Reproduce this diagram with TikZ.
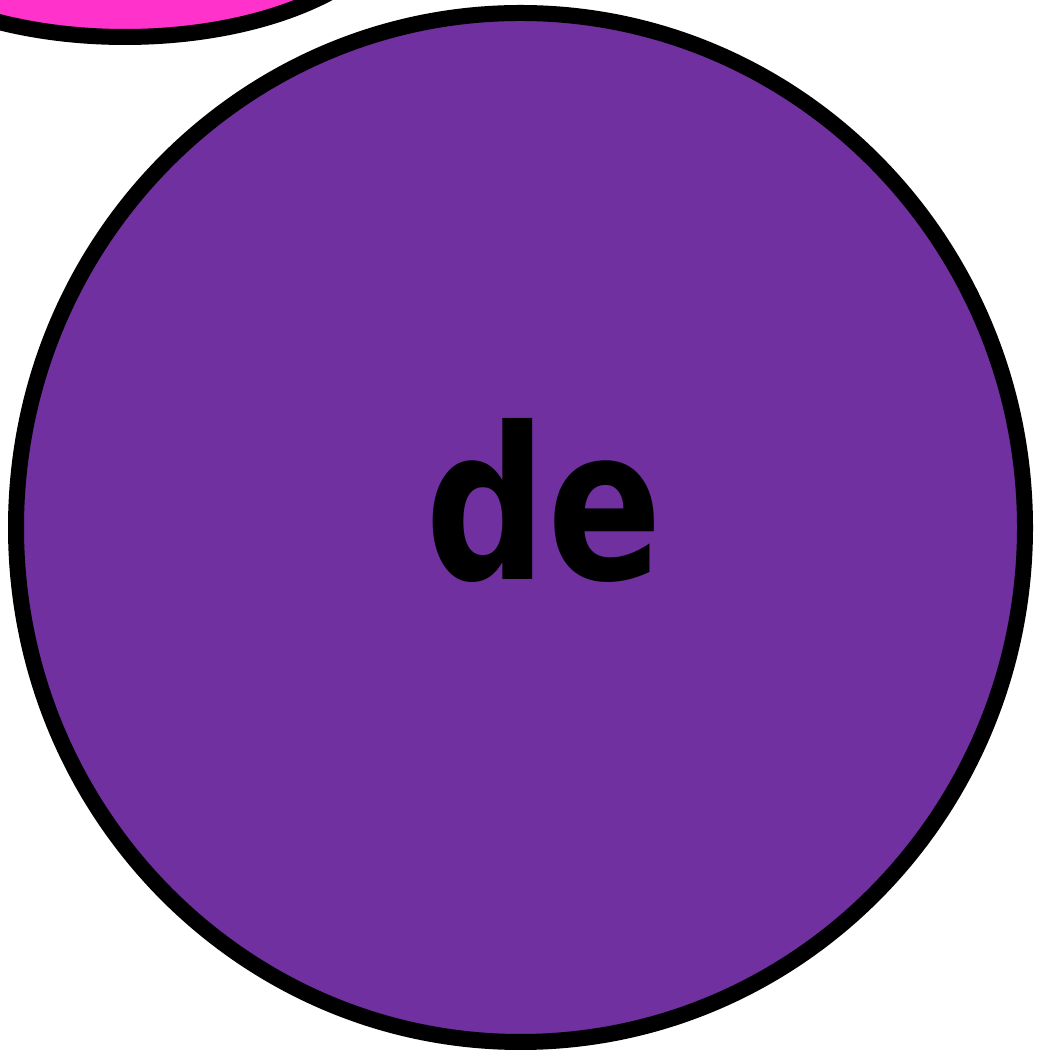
\documentclass[tikz,border=0pt]{standalone}
\usepackage{fontspec}
\setmainfont{DejaVu Sans}
\definecolor{bigpurple}{HTML}{7030A0}
\definecolor{hotpink}{HTML}{FF33CC}
\tikzset{
  blob/.style={draw=black, line width=16pt},
  biglabel/.style={font=\fontsize{212}{212}\selectfont\bfseries, text=black, inner sep=0pt}
}
\begin{document}
\begin{tikzpicture}[x=1pt,y=1pt]
\useasboundingbox (0,0) rectangle (1050,1057);
\clip (0,0) rectangle (1050,1057);
\path[blob, fill=hotpink] (125,1160) ellipse [x radius=280, y radius=140];
\path[blob, fill=bigpurple] (520.5,529.5) ellipse [x radius=504.5, y radius=514.5];
\node[biglabel, anchor=base, xscale=0.8] (lbl) at (544,477) {de};
\end{tikzpicture}
\end{document}
